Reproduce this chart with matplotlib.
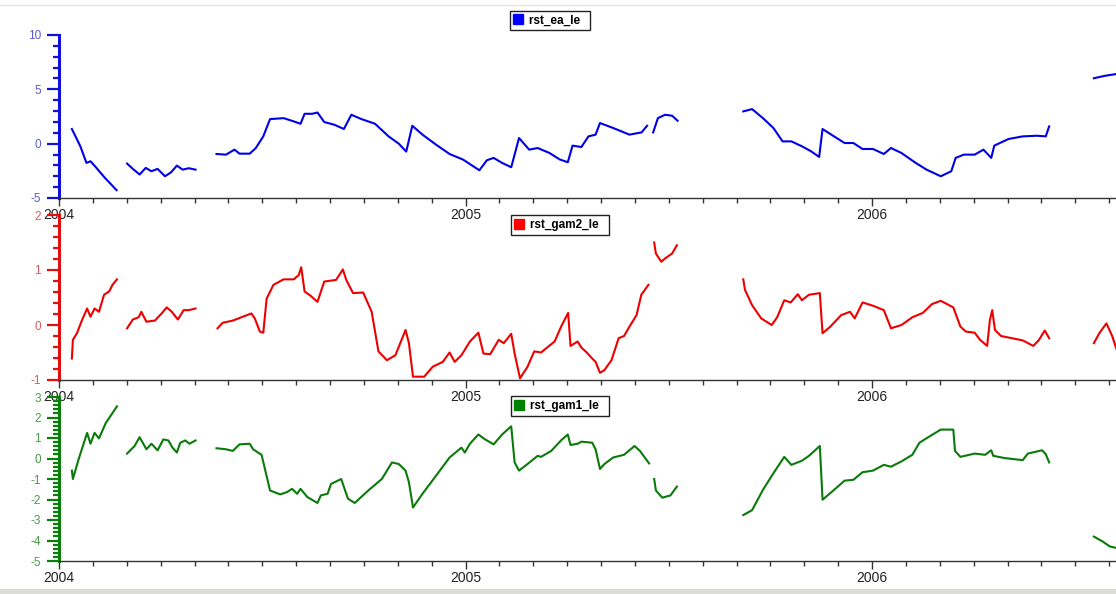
import numpy as np
import matplotlib
matplotlib.use("Agg")
import matplotlib.pyplot as plt
from matplotlib.lines import Line2D
from matplotlib.ticker import MultipleLocator, FixedLocator, FixedFormatter

plt.rcParams['font.family'] = ['Liberation Sans', 'DejaVu Sans']
plt.rcParams['axes.unicode_minus'] = False

# ---- data: time in months since Jan 2004 (None = gap) ----
ea_t = [0.38, 0.63, 0.81, 0.93, 1.08, 1.33, 1.70, None,
        2.01, 2.18, 2.38, 2.56, 2.73, 2.91, 3.13, 3.31, 3.48, 3.65, 3.83, 4.03, None,
        4.65, 4.93, 5.18, 5.33, 5.63, 5.81, 6.03, 6.23, 6.63, 6.93, 7.13, 7.25, 7.48, 7.63,
        7.83, 8.13, 8.41, 8.63, 8.93, 9.33, 9.73, 10.03, 10.25, 10.43, 10.73, 11.13, 11.53,
        11.93, 12.41, 12.63, 12.83, 13.08, 13.35, 13.58, 13.88, 14.13, 14.48, 14.78, 15.02,
        15.16, 15.42, 15.63, 15.84, 15.97, 16.36, 16.84, 17.20, 17.36, None,
        17.54, 17.68, 17.89, 18.10, 18.26, None,
        20.20, 20.46, 20.78, 21.09, 21.36, 21.62, 21.93, 22.20, 22.44, 22.54, 22.88, 23.19,
        23.45, 23.72, 24.03, 24.35, 24.56, 24.87, 25.29, 25.61, 26.03, 26.34, 26.47, 26.71,
        27.03, 27.29, 27.52, 27.61, 28.03, 28.45, 28.87, 29.13, 29.23, None,
        30.55, 30.87, 31.23]
ea_v = [1.35, -0.24, -1.77, -1.62, -2.14, -3.06, -4.28, None,
        -1.83, -2.32, -2.84, -2.23, -2.54, -2.32, -3.00, -2.63, -2.02, -2.39, -2.26, -2.39, None,
        -0.95, -1.01, -0.55, -0.92, -0.92, -0.40, 0.67, 2.26, 2.35, 2.05, 1.83, 2.75, 2.75, 2.87,
        1.99, 1.74, 1.35, 2.66, 2.26, 1.83, 0.67, 0.00, -0.73, 1.65, 0.83, -0.09, -0.95,
        -1.47, -2.45, -1.53, -1.31, -1.77, -2.17, 0.52, -0.55, -0.40, -0.86, -1.45, -1.71,
        -0.18, -0.31, 0.67, 0.83, 1.90, 1.44, 0.83, 1.04, 1.65, None,
        1.04, 2.35, 2.66, 2.57, 2.11, None,
        2.97, 3.18, 2.35, 1.44, 0.21, 0.21, -0.24, -0.70, -1.22, 1.35, 0.67, 0.06,
        0.06, -0.49, -0.49, -0.95, -0.40, -0.86, -1.77, -2.39, -3.00, -2.54, -1.31, -1.01,
        -1.01, -0.55, -1.31, -0.18, 0.43, 0.67, 0.73, 0.67, 1.59, None,
        6.02, 6.24, 6.42]

gam2_t = [0.38, 0.41, 0.53, 0.68, 0.83, 0.93, 1.05, 1.18, 1.33, 1.48, 1.58, 1.71, None,
          2.01, 2.18, 2.35, 2.43, 2.58, 2.83, 3.03, 3.18, 3.33, 3.51, 3.68, 3.83, 4.03, None,
          4.68, 4.83, 5.13, 5.43, 5.68, 5.78, 5.93, 6.03, 6.13, 6.33, 6.63, 6.93, 7.08, 7.15,
          7.25, 7.43, 7.63, 7.83, 8.18, 8.38, 8.48, 8.68, 8.98, 9.23, 9.43, 9.68, 9.93, 10.23,
          10.33, 10.45, 10.78, 11.03, 11.33, 11.53, 11.68, 11.88, 12.13, 12.38, 12.53, 12.73,
          12.98, 13.13, 13.35, 13.45, 13.61, 13.83, 14.03, 14.23, 14.63, 14.83, 15.03, 15.10,
          15.31, 15.42, 15.58, 15.74, 15.84, 15.97, 16.10, 16.31, 16.52, 16.68, 16.84, 17.05,
          17.19, 17.40, None,
          17.57, 17.62, 17.78, 17.89, 18.10, 18.24, None,
          20.20, 20.25, 20.46, 20.73, 21.04, 21.20, 21.41, 21.60, 21.81, 21.93, 22.14, 22.46,
          22.54, 22.77, 23.09, 23.35, 23.49, 23.72, 24.03, 24.35, 24.56, 24.87, 25.19, 25.50,
          25.77, 26.03, 26.40, 26.61, 26.77, 27.03, 27.19, 27.40, 27.48, 27.55, 27.63, 27.81,
          28.13, 28.45, 28.76, 28.92, 29.10, 29.23, None,
          30.55, 30.71, 30.92, 31.09, 31.26]
gam2_v = [-0.61, -0.27, -0.15, 0.09, 0.30, 0.15, 0.30, 0.24, 0.55, 0.61, 0.73, 0.83, None,
          -0.06, 0.10, 0.14, 0.24, 0.06, 0.08, 0.21, 0.32, 0.24, 0.10, 0.27, 0.27, 0.30, None,
          -0.06, 0.04, 0.08, 0.15, 0.21, 0.12, -0.12, -0.14, 0.48, 0.73, 0.83, 0.83, 0.91, 1.05,
          0.61, 0.53, 0.42, 0.79, 0.82, 1.01, 0.82, 0.58, 0.59, 0.24, -0.48, -0.64, -0.55, -0.09,
          -0.33, -0.94, -0.94, -0.76, -0.67, -0.50, -0.67, -0.55, -0.30, -0.14, -0.52, -0.53,
          -0.27, -0.33, -0.16, -0.52, -0.97, -0.76, -0.48, -0.50, -0.30, -0.02, 0.22, -0.38,
          -0.30, -0.41, -0.50, -0.61, -0.67, -0.87, -0.82, -0.64, -0.24, -0.20, -0.03, 0.18,
          0.55, 0.73, None,
          1.50, 1.30, 1.15, 1.21, 1.30, 1.45, None,
          0.83, 0.64, 0.36, 0.12, 0.00, 0.14, 0.45, 0.41, 0.56, 0.45, 0.55, 0.58,
          -0.15, -0.03, 0.18, 0.24, 0.12, 0.41, 0.35, 0.27, -0.06, 0.00, 0.14, 0.22,
          0.38, 0.44, 0.32, -0.03, -0.12, -0.14, -0.27, -0.38, 0.09, 0.27, -0.09, -0.20,
          -0.24, -0.28, -0.38, -0.28, -0.10, -0.24, None,
          -0.33, -0.15, 0.03, -0.20, -0.52]

gam1_t = [0.38, 0.41, 0.58, 0.83, 0.93, 1.05, 1.18, 1.38, 1.71, None,
          2.01, 2.23, 2.38, 2.58, 2.73, 2.91, 3.08, 3.23, 3.35, 3.48, 3.58, 3.73, 3.85, 4.03, None,
          4.65, 4.93, 5.13, 5.33, 5.63, 5.73, 5.98, 6.23, 6.53, 6.73, 6.88, 7.03, 7.13, 7.33,
          7.63, 7.73, 7.93, 8.03, 8.33, 8.53, 8.73, 9.13, 9.53, 9.83, 10.03, 10.23, 10.33, 10.45,
          10.73, 11.13, 11.53, 11.88, 11.98, 12.13, 12.38, 12.58, 12.83, 13.08, 13.35, 13.45,
          13.58, 13.83, 14.13, 14.23, 14.53, 14.83, 15.02, 15.10, 15.31, 15.42, 15.74, 15.84,
          15.97, 16.10, 16.36, 16.68, 16.99, 17.15, 17.42, None,
          17.57, 17.62, 17.81, 18.05, 18.24, None,
          20.20, 20.46, 20.78, 21.09, 21.41, 21.62, 21.93, 22.14, 22.46, 22.54, 22.88, 23.19,
          23.45, 23.72, 24.03, 24.35, 24.56, 24.87, 25.19, 25.40, 25.71, 26.03, 26.40, 26.45,
          26.61, 27.03, 27.34, 27.52, 27.58, 27.92, 28.45, 28.60, 29.02, 29.13, 29.23, None,
          30.55, 30.81, 31.02, 31.23]
gam1_v = [-0.59, -1.00, -0.03, 1.25, 0.72, 1.25, 0.98, 1.73, 2.54, None,
          0.24, 0.61, 1.04, 0.45, 0.72, 0.40, 0.93, 0.88, 0.53, 0.29, 0.77, 0.88, 0.72, 0.88, None,
          0.50, 0.45, 0.37, 0.69, 0.72, 0.45, 0.18, -1.56, -1.75, -1.64, -1.48, -1.72, -1.48, -1.88,
          -2.17, -1.80, -1.72, -1.24, -1.00, -1.96, -2.17, -1.56, -1.00, -0.19, -0.27, -0.59, -1.16, -2.39,
          -1.72, -0.84, 0.05, 0.53, 0.29, 0.72, 1.17, 0.93, 0.69, 1.17, 1.57, -0.19,
          -0.59, -0.27, 0.13, 0.08, 0.37, 0.90, 1.17, 0.66, 0.72, 0.82, 0.77, 0.45,
          -0.51, -0.27, 0.05, 0.18, 0.61, 0.37, -0.24, None,
          -1.00, -1.56, -1.91, -1.80, -1.37, None,
          -2.76, -2.52, -1.53, -0.72, 0.08, -0.31, -0.11, 0.13, 0.61, -2.01, -1.53, -1.08,
          -1.04, -0.67, -0.59, -0.31, -0.40, -0.14, 0.18, 0.77, 1.09, 1.41, 1.41, 0.37,
          0.08, 0.24, 0.18, 0.40, 0.13, 0.02, -0.08, 0.24, 0.40, 0.21, -0.19, None,
          -3.81, -4.05, -4.29, -4.37]

year_labels = ['2004', '2005', '2006']
series_names = ['rst_ea_le', 'rst_gam2_le', 'rst_gam1_le']


def arr(a):
    return np.array([np.nan if v is None else v for v in a], dtype=float)


W, H = 1116, 594
fig = plt.figure(figsize=(W / 100, H / 100), dpi=100)
fig.patch.set_facecolor('white')

panels = [
    dict(t=ea_t, v=ea_v, top=35, bot=198, ylim=(-5, 10), major=5, minor=1,
         line='#0000e6', spine='#1010d8', lab='#5a5ad0', sq='#0000ff',
         leg=(550, 20.5)),
    dict(t=gam2_t, v=gam2_v, top=215, bot=380, ylim=(-1, 2), major=1, minor=0.2,
         line='#ee0000', spine='#e01010', lab='#d85a5a', sq='#ff0000',
         leg=(560, 225)),
    dict(t=gam1_t, v=gam1_v, top=397, bot=561, ylim=(-5, 3), major=1, minor=0.2,
         line='#0a7a0a', spine='#0a800a', lab='#4a9a4a', sq='#008000',
         leg=(560, 406)),
]

left_px = 59
xmax = (W - left_px) / 33.875

for i, p in enumerate(panels):
    ax = fig.add_axes([left_px / W, 1 - p['bot'] / H, (W - left_px) / W,
                       (p['bot'] - p['top']) / H])
    ax.set_facecolor('none')
    ax.plot(arr(p['t']), arr(p['v']), color=p['line'], lw=1.5,
            solid_joinstyle='round')
    ax.set_xlim(0, xmax)
    ax.set_ylim(*p['ylim'])
    for s in ['top', 'right']:
        ax.spines[s].set_visible(False)
    ax.spines['left'].set_color(p['spine'])
    ax.spines['left'].set_linewidth(2.2)
    ax.spines['bottom'].set_color('#333333')
    ax.spines['bottom'].set_linewidth(1.0)
    ax.yaxis.set_major_locator(MultipleLocator(p['major']))
    ax.yaxis.set_minor_locator(MultipleLocator(p['minor']))
    ax.tick_params(axis='y', which='major', length=9, width=1.6, color=p['spine'],
                   labelcolor=p['lab'], labelsize=8.5, pad=4, direction='out')
    ax.tick_params(axis='y', which='minor', length=4.5, width=1.6, color=p['spine'],
                   direction='out')
    ax.xaxis.set_major_locator(FixedLocator([0, 12, 24]))
    ax.xaxis.set_major_formatter(FixedFormatter(year_labels))
    ax.xaxis.set_minor_locator(MultipleLocator(1))
    ax.tick_params(axis='x', which='major', length=6, width=1.0, color='#333333',
                   labelcolor='#222222', labelsize=10, pad=1.5, direction='out')
    ax.tick_params(axis='x', which='minor', length=3.5, width=1.0, color='#333333',
                   direction='out')
    h = Line2D([], [], marker='s', color='none', markerfacecolor=p['sq'],
               markeredgecolor=p['sq'], markersize=7)
    lx, ly = p['leg']
    leg = fig.legend([h], [series_names[i] + '  '], loc='center',
                     bbox_to_anchor=(lx / W, 1 - ly / H), frameon=True,
                     fancybox=False, edgecolor='#222222', framealpha=1,
                     prop=dict(size=8.5, weight='bold'), handlelength=0.8,
                     handletextpad=0.5, borderpad=0.3, borderaxespad=0)
    leg.get_frame().set_linewidth(1.0)

fig.add_artist(Line2D([0, 1], [1 - 5 / H, 1 - 5 / H], color='#e2e2de', lw=1))
fig.add_artist(plt.Rectangle((0, 0), 1, 5 / H, color='#dcdcd6', lw=0))

fig.savefig('out.png', dpi=100)
